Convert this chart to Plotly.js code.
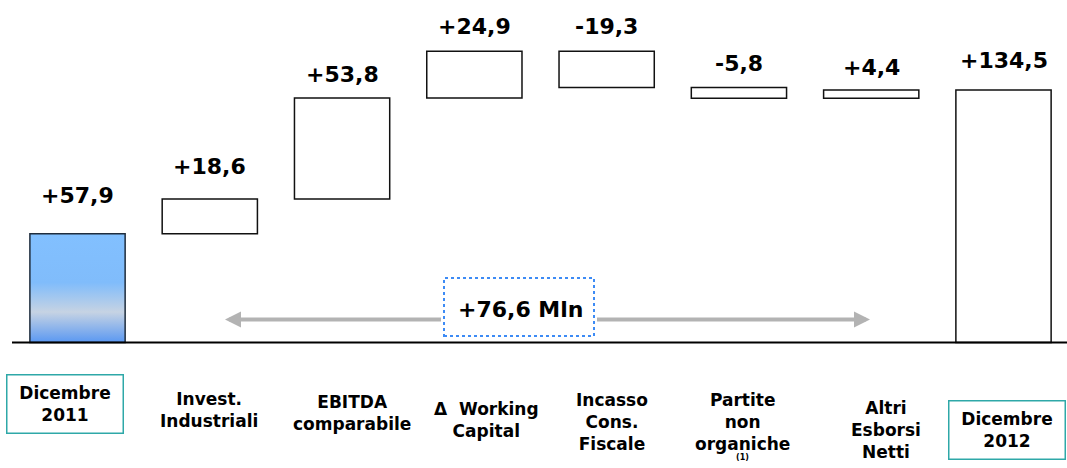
<!DOCTYPE html>
<html>
<head>
<meta charset="utf-8">
<script src="https://cdn.plot.ly/plotly-3.0.1.min.js"></script>
<style>
html, body { margin: 0; padding: 0; background: #fff; }
#chart { width: 1067px; height: 468px; }
</style>
</head>
<body>
<div id="chart"></div>
<script>
// data
var categories = ['Dicembre<br>2011', 'Invest.<br>Industriali', 'EBITDA<br>comparabile',
    '\u0394\u00a0\u00a0Working<br>Capital', 'Incasso<br>Cons.<br>Fiscale', 'Partite<br>non<br>organiche',
    'Altri<br>Esborsi<br>Netti', 'Dicembre<br>2012'];
var kinds = ['total', 'delta', 'delta', 'delta', 'delta', 'delta', 'delta', 'total'];
var values = [57.9, 18.6, 53.8, 24.9, -19.3, -5.8, 4.4, 134.5];
var valueLabels = ['+57,9', '+18,6', '+53,8', '+24,9', '-19,3', '-5,8', '+4,4', '+134,5'];
var netChangeLabel = '+76,6 Mln';

// layout helpers (pixels)
var W = 1067, H = 468;
var labelShift = [-13, -1, 10, 12, 5, 4, 15, 3.5];
var labelY = [404, 410, 413, 420, 422, 422, 430, 430];
var valueLift = [38, 32, 23, 25, 25, 24, 23, 30];

function px(x) { return x / W; }
function py(y) { return 1 - y / H; }

var xs = [], bases = [], tops = [];
var running = 0;
for (var i = 0; i < values.length; i++) {
    xs.push(i);
    if (kinds[i] === 'total') {
        bases.push(0);
        running = values[i];
    } else {
        bases.push(running);
        running += values[i];
    }
    tops.push(Math.max(bases[i], bases[i] + values[i]));
}

var lineColors = values.map(function(v, i) { return i === 0 ? '#1f2d3d' : '#111'; });

var trace = {
    type: 'bar',
    x: xs,
    y: values,
    base: bases,
    width: 0.72,
    marker: {
        color: '#ffffff',
        line: { color: lineColors, width: 1.5 }
    },
    hoverinfo: 'skip'
};

var annotations = [];
var boldFont = { family: 'DejaVu Sans', size: 17, color: '#000', weight: 'bold' };

for (var j = 0; j < categories.length; j++) {
    var ann = {
        x: j, xref: 'x', xshift: labelShift[j],
        y: py(labelY[j]), yref: 'paper', yanchor: 'middle',
        text: categories[j], showarrow: false,
        font: boldFont, align: 'center'
    };
    if (kinds[j] === 'total') {
        ann.bordercolor = '#2ea8a8';
        ann.borderwidth = 1.5;
        ann.borderpad = 1;
        ann.width = 113;
        ann.height = 55;
    }
    annotations.push(ann);

    annotations.push({
        x: j, xref: 'x',
        y: tops[j], yref: 'y', yanchor: 'middle', yshift: valueLift[j],
        text: valueLabels[j], showarrow: false,
        font: { family: 'DejaVu Sans', size: 22, color: '#000', weight: 'bold' }
    });
}

// footnote mark under "organiche"
annotations.push({
    x: 5, xref: 'x', xshift: 4, y: py(457), yref: 'paper', yanchor: 'middle',
    text: '(1)', showarrow: false,
    font: { family: 'DejaVu Sans', size: 8, color: '#000', weight: 'bold' }
});

// double arrow, two halves ending at the box edges
annotations.push({
    x: px(225), xref: 'paper', y: py(319.5), yref: 'paper',
    ax: 444 - 225, ay: 0, text: ' ', showarrow: true,
    arrowhead: 2, arrowsize: 0.8, arrowwidth: 4, arrowcolor: '#b3b3b3', standoff: 0, startstandoff: 0
});
annotations.push({
    x: px(870), xref: 'paper', y: py(319.5), yref: 'paper',
    ax: 594 - 870, ay: 0, text: ' ', showarrow: true,
    arrowhead: 2, arrowsize: 0.8, arrowwidth: 4, arrowcolor: '#b3b3b3', standoff: 0, startstandoff: 0
});
annotations.push({
    x: px(520), xref: 'paper', y: py(309), yref: 'paper', yanchor: 'middle',
    text: netChangeLabel, showarrow: false,
    font: { family: 'DejaVu Sans', size: 22, color: '#000', weight: 'bold' }
});

var layout = {
    width: W,
    height: H,
    margin: { l: 0, r: 0, t: 0, b: 0 },
    paper_bgcolor: '#fff',
    plot_bgcolor: '#fff',
    showlegend: false,
    xaxis: { range: [-0.586, 7.48], visible: false, fixedrange: true },
    yaxis: { range: [-66.9, 182.5], visible: false, fixedrange: true },
    shapes: [
        { type: 'line', xref: 'paper', yref: 'y', x0: px(12), x1: 1, y0: 0, y1: 0,
          line: { color: '#000', width: 2 }, layer: 'above' },
        { type: 'rect', xref: 'paper', yref: 'paper', x0: px(444), x1: px(594), y0: py(336), y1: py(278),
          line: { color: '#3d8bf5', width: 2, dash: 'dot' }, fillcolor: '#fff', layer: 'above' }
    ],
    annotations: annotations
};

Plotly.newPlot('chart', [trace], layout, { staticPlot: true, displayModeBar: false }).then(function(gd) {
    // gradient fill for the opening bar
    var svg = gd.querySelector('svg.main-svg');
    var defs = svg.querySelector('defs');
    var ns = 'http://www.w3.org/2000/svg';
    var grad = document.createElementNS(ns, 'linearGradient');
    grad.setAttribute('id', 'barGrad');
    grad.setAttribute('x1', '0'); grad.setAttribute('y1', '0');
    grad.setAttribute('x2', '0'); grad.setAttribute('y2', '1');
    [['0', '#82c0ff'], ['0.45', '#80bcfb'], ['0.72', '#c6d3e3'], ['1', '#5a98f2']].forEach(function(s) {
        var stop = document.createElementNS(ns, 'stop');
        stop.setAttribute('offset', s[0]);
        stop.setAttribute('stop-color', s[1]);
        grad.appendChild(stop);
    });
    defs.appendChild(grad);
    var first = gd.querySelector('.barlayer .point path');
    if (first) first.style.fill = 'url(#barGrad)';
});
</script>
</body>
</html>
